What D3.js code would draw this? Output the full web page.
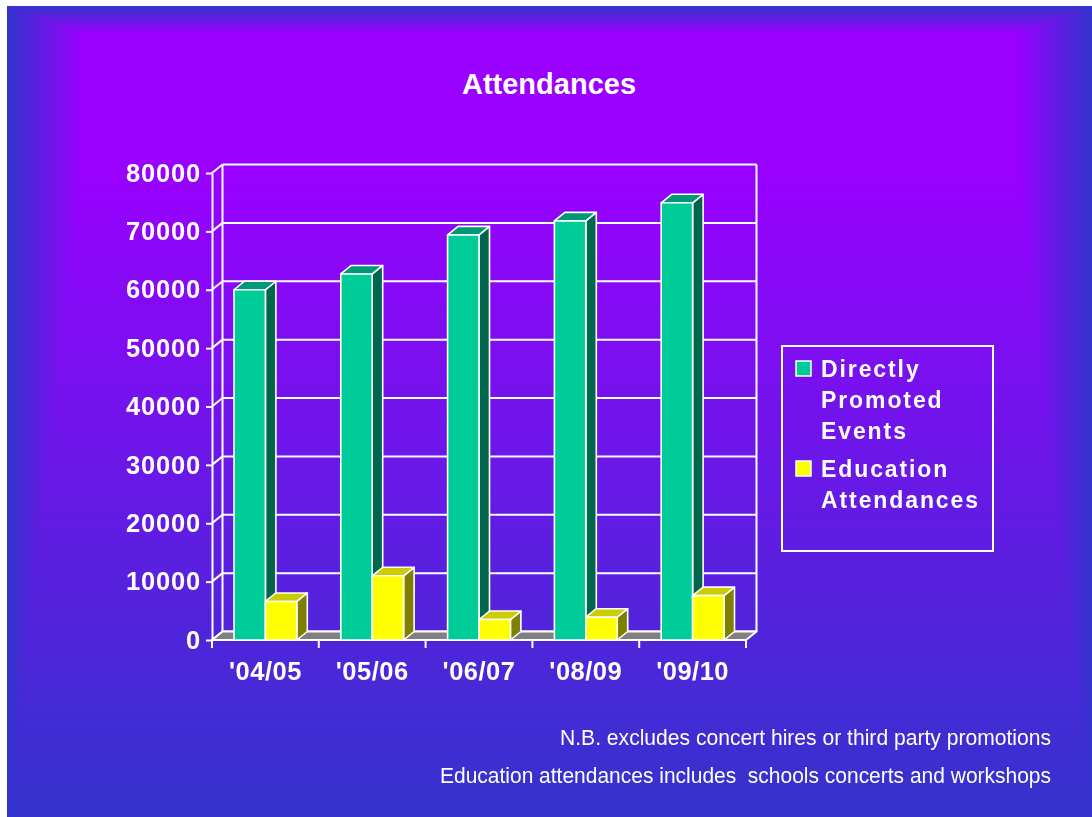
<!DOCTYPE html>
<html>
<head>
<meta charset="utf-8">
<script src="https://cdn.jsdelivr.net/npm/d3@7"></script>
<style>
  html, body { margin: 0; padding: 0; background: #ffffff; }
  #wrap { position: relative; width: 1092px; height: 817px; overflow: hidden; }
  canvas, svg { position: absolute; left: 0; top: 0; }
  text { font-family: "Liberation Sans", Arial, sans-serif; fill: #ffffff; }
</style>
</head>
<body>
<div id="wrap">
  <canvas id="bg" width="1092" height="817"></canvas>
  <svg id="chart" width="1092" height="817"></svg>
</div>
<script>
// ---------------- data ----------------
const categories = ["'04/05", "'05/06", "'06/07", "'08/09", "'09/10"];
const directlyPromoted = [60000, 62700, 69400, 71800, 74900];
const educationAttendances = [6600, 11000, 3500, 3900, 7600];
const seriesKeys = ["Directly Promoted Events", "Education Attendances"];
const legendLines = [["Directly", "Promoted", "Events"], ["Education", "Attendances"]];
const yTickValues = [0, 10000, 20000, 30000, 40000, 50000, 60000, 70000, 80000];
const titleText = "Attendances";
const noteLines = ["N.B. excludes concert hires or third party promotions",
                   "Education attendances includes  schools concerts and workshops"];

// ---------------- background (rectangular gradient) ----------------
(function drawBackground() {
  const cv = document.getElementById("bg");
  const ctx = cv.getContext("2d");
  const W = 1092, H = 817;
  const img = ctx.createImageData(W, H);
  const c0 = [153, 0, 255], c1 = [51, 51, 204];
  const left = 7, top = 6;
  for (let yy = 0; yy < H; yy++) {
    for (let xx = 0; xx < W; xx++) {
      const i = (yy * W + xx) * 4;
      if (xx < left || yy < top) { img.data[i] = 255; img.data[i+1] = 255; img.data[i+2] = 255; img.data[i+3] = 255; continue; }
      let t = Math.max((82 - xx) / 75, (xx - 1017) / 75, (33 - yy) / 27, (yy - 170) / 647);
      t = Math.max(0, Math.min(1, t));
      img.data[i]   = Math.round(c0[0] + (c1[0] - c0[0]) * t);
      img.data[i+1] = Math.round(c0[1] + (c1[1] - c0[1]) * t);
      img.data[i+2] = Math.round(c0[2] + (c1[2] - c0[2]) * t);
      img.data[i+3] = 255;
    }
  }
  ctx.putImageData(img, 0, 0);
})();

// ---------------- chart ----------------
const svg = d3.select("#chart");

// title box
svg.append("rect").attr("x", 82).attr("y", 33).attr("width", 935).attr("height", 137)
  .attr("fill", "#9900ff");
svg.append("text").attr("x", 549).attr("y", 94).attr("text-anchor", "middle")
  .attr("font-size", 29).attr("font-weight", "bold").text(titleText);

const DX = 10.5, DY = -8.5;
const x = d3.scaleBand().domain(categories).range([212, 746]).paddingInner(0).paddingOuter(0);
const xs = d3.scaleBand().domain(seriesKeys).range([0, x.bandwidth()]).paddingInner(0).paddingOuter(0.7);
const y = d3.scaleLinear().domain([0, 80000]).range([640, 173]);

const lineStyle = sel => sel.attr("stroke", "#ffffff").attr("stroke-width", 2).attr("fill", "none");

// back wall gridlines
const g = svg.append("g");
g.selectAll("line.grid").data(yTickValues).enter().append("line")
  .attr("x1", x.range()[0] + DX).attr("x2", x.range()[1] + DX)
  .attr("y1", d => y(d) + DY).attr("y2", d => y(d) + DY).call(lineStyle);
// side wall connectors
g.selectAll("line.conn").data(yTickValues).enter().append("line")
  .attr("x1", x.range()[0]).attr("x2", x.range()[0] + DX)
  .attr("y1", d => y(d)).attr("y2", d => y(d) + DY).call(lineStyle);
// back wall verticals
[x.range()[0] + DX, x.range()[1] + DX].forEach(xx => {
  g.append("line").attr("x1", xx).attr("x2", xx)
    .attr("y1", y(80000) + DY).attr("y2", y(0) + DY).call(lineStyle);
});

// floor
const x0 = x.range()[0], x1 = x.range()[1], yb = y(0);
g.append("path")
  .attr("d", `M${x0},${yb}L${x1},${yb}L${x1 + DX},${yb + DY}L${x0 + DX},${yb + DY}Z`)
  .attr("fill", "#808080").attr("stroke", "#ffffff").attr("stroke-width", 2).attr("stroke-linejoin", "round");

// y axis
const yAxis = d3.axisLeft(y).tickValues(yTickValues).tickSize(6).tickSizeOuter(0).tickPadding(5)
  .tickFormat(d3.format("d"));
const ya = svg.append("g").attr("transform", `translate(${x0},0)`).call(yAxis);
ya.select(".domain").attr("stroke", "#ffffff").attr("stroke-width", 2);
ya.selectAll(".tick line").attr("stroke", "#ffffff").attr("stroke-width", 2);
ya.selectAll(".tick text").attr("fill", "#ffffff").attr("font-size", 25.5).attr("font-weight", "bold")
  .attr("letter-spacing", 0.8).attr("font-family", "Liberation Sans, Arial, sans-serif");

// x axis (labels at band centers)
const xAxis = d3.axisBottom(x).tickSize(0).tickPadding(22);
const xa = svg.append("g").attr("transform", `translate(0,${yb})`).call(xAxis);
xa.select(".domain").remove();
xa.selectAll(".tick text").attr("fill", "#ffffff").attr("font-size", 25.5).attr("font-weight", "bold")
  .attr("letter-spacing", 0.5).attr("font-family", "Liberation Sans, Arial, sans-serif");
// front floor edge + category boundary ticks
const bounds = categories.map(c => x(c)).concat([x1]);
svg.append("line").attr("x1", x0).attr("x2", x1).attr("y1", yb).attr("y2", yb).call(lineStyle);
svg.selectAll("line.xt").data(bounds).enter().append("line")
  .attr("x1", d => d).attr("x2", d => d).attr("y1", yb).attr("y2", yb + 8).call(lineStyle);

// bars
const palettes = {
  "Directly Promoted Events": { front: "#00cc99", top: "#009977", side: "#00664c" },
  "Education Attendances": { front: "#ffff00", top: "#cccc00", side: "#808000" }
};
const barData = [];
categories.forEach((c, i) => {
  barData.push({ cat: c, key: seriesKeys[0], value: directlyPromoted[i] });
  barData.push({ cat: c, key: seriesKeys[1], value: educationAttendances[i] });
});
const bars = svg.append("g").selectAll("g.bar").data(barData).enter().append("g")
  .attr("stroke", "#ffffff").attr("stroke-width", 1.6).attr("stroke-linejoin", "round");
bars.each(function (d) {
  const gg = d3.select(this);
  const bx = x(d.cat) + xs(d.key), w = xs.bandwidth();
  const yt = y(d.value);
  const p = palettes[d.key];
  gg.append("path")
    .attr("d", `M${bx + w},${yt}L${bx + w + DX},${yt + DY}L${bx + w + DX},${yb + DY}L${bx + w},${yb}Z`)
    .attr("fill", p.side);
  gg.append("path")
    .attr("d", `M${bx},${yt}L${bx + DX},${yt + DY}L${bx + w + DX},${yt + DY}L${bx + w},${yt}Z`)
    .attr("fill", p.top);
  gg.append("rect").attr("x", bx).attr("y", yt).attr("width", w).attr("height", yb - yt)
    .attr("fill", p.front);
});

// legend
const lg = svg.append("g");
lg.append("rect").attr("x", 782).attr("y", 346).attr("width", 211).attr("height", 205)
  .attr("fill", "none").attr("stroke", "#ffffff").attr("stroke-width", 2);
const legendY = [377, 477];
seriesKeys.forEach((k, i) => {
  lg.append("rect").attr("x", 796).attr("y", legendY[i] - 16).attr("width", 15).attr("height", 15)
    .attr("fill", palettes[k].front).attr("stroke", "#ffffff").attr("stroke-width", 1.5);
  legendLines[i].forEach((ln, j) => {
    lg.append("text").attr("x", 821).attr("y", legendY[i] + j * 31)
      .attr("font-size", 23).attr("font-weight", "bold").attr("letter-spacing", 1.9).text(ln);
  });
});

// footnotes
const noteY = [745, 783];
const noteLen = [491, 611];
noteLines.forEach((t, i) => {
  svg.append("text").attr("x", 1051).attr("y", noteY[i]).attr("text-anchor", "end")
    .attr("font-size", 22.5).attr("textLength", noteLen[i]).attr("lengthAdjust", "spacingAndGlyphs")
    .style("white-space", "pre").text(t);
});
</script>
</body>
</html>
